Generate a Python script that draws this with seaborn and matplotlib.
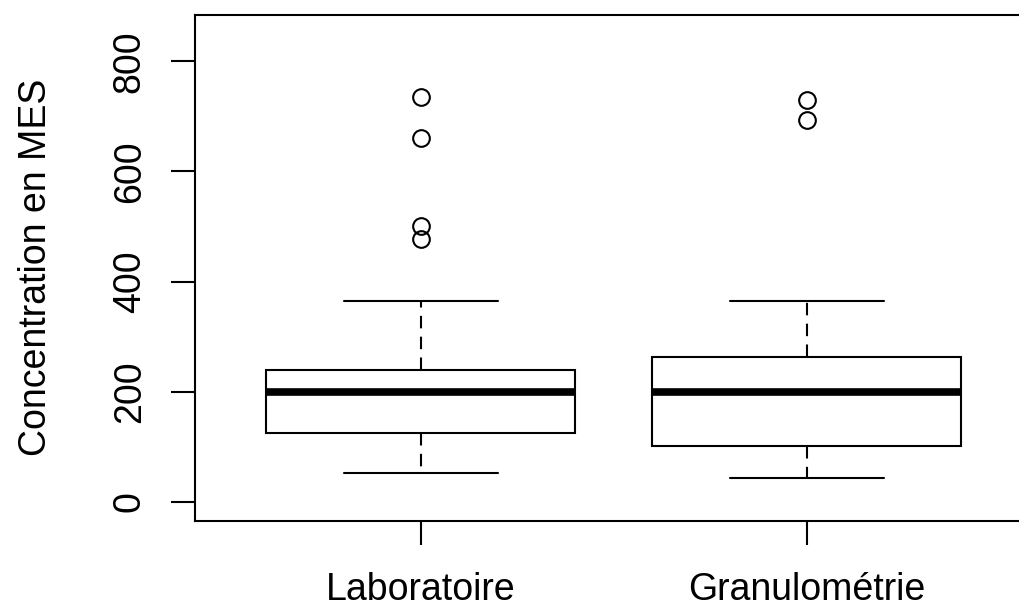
import matplotlib
matplotlib.use("Agg")
import matplotlib.pyplot as plt
import pandas as pd
import seaborn as sns

# values (quartiles, whisker ends and outliers land on the drawn ones)
groups = ["Laboratoire", "Granulométrie"]
laboratoire = [52, 70, 85, 98, 112, 125, 140, 155, 170, 185, 199,
               208, 215, 224, 232, 240, 364, 477, 500, 661, 735]
granulometrie = [43, 60, 75, 90, 102, 125, 150, 175, 199,
                 215, 230, 248, 263, 300, 364, 693, 730]
y_ticks = [0, 200, 400, 600, 800]

df = pd.DataFrame({
    "groupe": [groups[0]] * len(laboratoire) + [groups[1]] * len(granulometrie),
    "MES": laboratoire + granulometrie,
})

sns.set_style("white")
plt.rcParams["font.family"] = ["Liberation Sans", "DejaVu Sans"]

fig = plt.figure(figsize=(10.2, 6.1), dpi=100)
# right edge of the plot box falls outside the image, as in the reference
ax = fig.add_axes([195 / 1020, 89 / 610, 860 / 1020, 506.5 / 610])

lw = 1.5
sns.boxplot(
    data=df, x="groupe", y="MES", order=groups, ax=ax,
    color="white", linecolor="black", linewidth=lw, width=0.8, whis=1.5,
    medianprops=dict(color="black", linewidth=5.5, solid_capstyle="butt"),
    whiskerprops=dict(color="black", linewidth=lw, linestyle=(0, (6, 4))),
    capprops=dict(color="black", linewidth=lw),
    flierprops=dict(marker="o", markersize=12, markerfacecolor="none",
                    markeredgecolor="black", markeredgewidth=lw),
)

ax.set_xlim(-0.585, -0.585 + 860 / 386)
ax.set_ylim(-35, 885)
ax.set_yticks(y_ticks)
ax.set_yticklabels([str(v) for v in y_ticks], rotation=90, va="center")
ax.set_xlabel("")
ax.set_ylabel("Concentration en MES", fontsize=27, va="center", color="black")
ax.yaxis.set_label_coords(-0.19 * 838 / 860, 0.5)

ax.tick_params(axis="both", direction="out", length=17, width=lw,
               color="black", labelsize=27, labelcolor="black",
               bottom=True, left=True)
ax.tick_params(axis="y", pad=17)
ax.tick_params(axis="x", pad=20)
for s in ax.spines.values():
    s.set_visible(True)
    s.set_color("black")
    s.set_linewidth(lw)

fig.savefig("out.png", dpi=100)
plt.close(fig)
